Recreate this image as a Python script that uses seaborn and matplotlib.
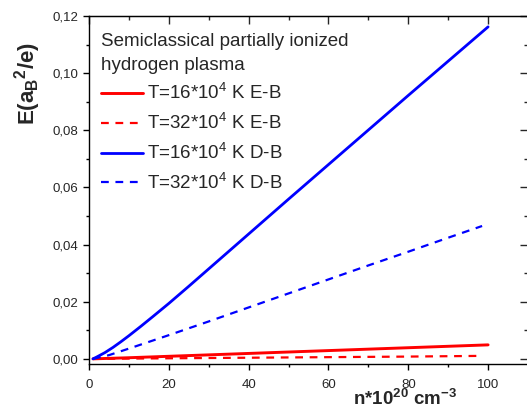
import matplotlib
matplotlib.use("Agg")
import matplotlib.pyplot as plt
import seaborn as sns
from matplotlib.ticker import MultipleLocator, FuncFormatter, NullFormatter

# values
n_ed16 = [1, 10, 20, 40, 60, 80, 100]
e_ed16 = [0.0, 0.0004, 0.0009, 0.0019, 0.0029, 0.0039, 0.0049]

n_ed32 = [1, 20, 40, 60, 80, 98.5]
e_ed32 = [0.0, 0.0002, 0.0004, 0.0006, 0.0008, 0.00105]

n_db16 = [1, 2, 4, 6, 8, 10, 13, 16, 20, 25, 30, 40, 50, 60, 70, 80, 90, 100]
e_db16 = [0.0, 0.0007, 0.0022, 0.0040, 0.0060, 0.0081, 0.0114, 0.0148,
          0.0194, 0.0254, 0.0315, 0.0437, 0.0559, 0.0680, 0.0801, 0.0922,
          0.1042, 0.1162]

n_db32 = [1, 5, 10, 20, 30, 40, 50, 60, 70, 80, 90, 98.5]
e_db32 = [0.0, 0.0013, 0.0036, 0.0083, 0.0131, 0.0180, 0.0229, 0.0278,
          0.0327, 0.0375, 0.0424, 0.0465]

labels = ["T=16*10$^4$ K E-B", "T=32*10$^4$ K E-B",
          "T=16*10$^4$ K D-B", "T=32*10$^4$ K D-B"]

sns.set_style("ticks")
plt.rcParams['font.family'] = ['Liberation Sans', 'DejaVu Sans']
plt.rcParams['mathtext.fontset'] = 'custom'
plt.rcParams['mathtext.rm'] = 'Liberation Sans'
plt.rcParams['mathtext.bf'] = 'Liberation Sans:bold'
plt.rcParams['mathtext.default'] = 'regular'

fig = plt.figure(figsize=(5.27, 4.09), dpi=100)
ax = fig.add_axes([0.1689, 0.1100, 0.8330, 0.8509])

dash = (0, (3.5, 3))
sns.lineplot(x=n_ed16, y=e_ed16, ax=ax, color="#ff0000", linewidth=2.1, label=labels[0])
sns.lineplot(x=n_ed32, y=e_ed32, ax=ax, color="#ff0000", linewidth=1.6, linestyle=dash, label=labels[1])
sns.lineplot(x=n_db16, y=e_db16, ax=ax, color="#0000ff", linewidth=2.0, label=labels[2])
sns.lineplot(x=n_db32, y=e_db32, ax=ax, color="#0000ff", linewidth=1.6, linestyle=dash, label=labels[3])

ax.set_xlim(0, 110)
ax.set_ylim(-0.0018, 0.12)

ax.xaxis.set_major_locator(MultipleLocator(20))
ax.xaxis.set_minor_locator(MultipleLocator(10))
ax.yaxis.set_major_locator(MultipleLocator(0.02))
ax.yaxis.set_minor_locator(MultipleLocator(0.01))
ax.yaxis.set_major_formatter(FuncFormatter(lambda v, _: f"{v:.2f}".replace('.', ',')))
ax.tick_params(which='both', direction='out', labelsize=9.5, width=1, color='black')
ax.tick_params(which='major', length=4.5)
ax.tick_params(which='minor', length=2.5)
ax.tick_params(axis='x', pad=6)
ax.tick_params(axis='y', pad=3)

for side in ['top', 'right', 'left', 'bottom']:
    ax.spines[side].set_color('black')
    ax.spines[side].set_linewidth(1)

# inward ticks on the top and right axes
top = ax.secondary_xaxis('top')
top.xaxis.set_major_locator(MultipleLocator(20))
top.xaxis.set_minor_locator(MultipleLocator(10))
top.xaxis.set_major_formatter(NullFormatter())
top.tick_params(which='both', direction='in', width=1)
top.tick_params(which='major', length=5.5)
top.tick_params(which='minor', length=3)

right = ax.secondary_yaxis('right')
right.yaxis.set_major_locator(MultipleLocator(0.02))
right.yaxis.set_minor_locator(MultipleLocator(0.01))
right.yaxis.set_major_formatter(NullFormatter())
right.tick_params(which='both', direction='in', width=1)
right.tick_params(which='major', length=5.5)
right.tick_params(which='minor', length=3)

ax.set_ylabel("E(a$_B$$^2$/e)", fontsize=16, fontweight='bold')
ax.yaxis.set_label_coords(-0.105, 0.807)
ax.set_xlabel("")
ax.text(0.601, -0.118, "n*10$^{20}$ cm$^{-3}$", transform=ax.transAxes,
        fontsize=13.5, fontweight='bold', ha='left', va='baseline')

leg = ax.legend(title="Semiclassical partially ionized\nhydrogen plasma",
                loc='upper left', bbox_to_anchor=(0.027, 0.951), frameon=False,
                fontsize=13.5, title_fontsize=13.5, alignment='left',
                handlelength=2.25, handletextpad=0.2, labelspacing=0.52,
                borderpad=0, borderaxespad=0)
leg.get_title().set_linespacing(1.5)

fig.savefig("out.png", dpi=100)
